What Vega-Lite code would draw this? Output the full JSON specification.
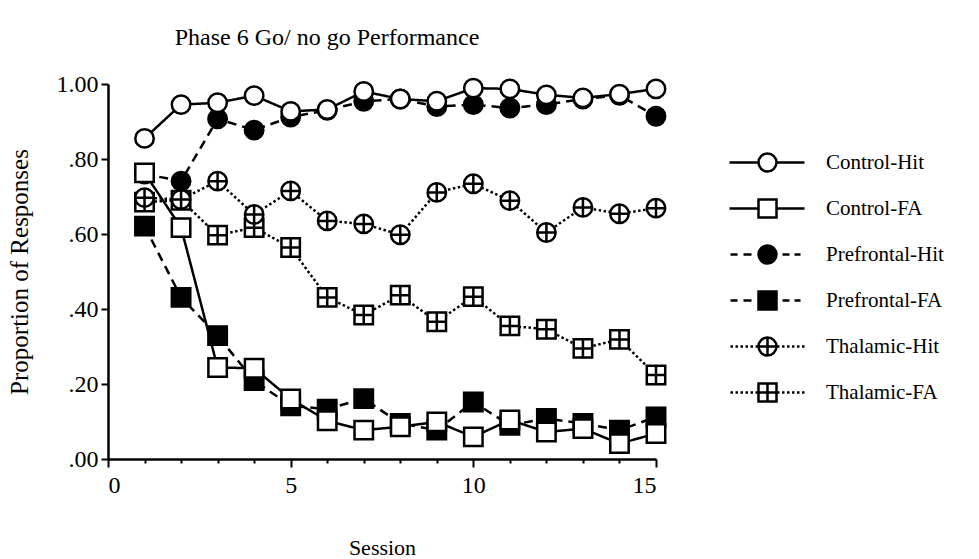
{
  "$schema": "https://vega.github.io/schema/vega-lite/v6.json",
  "autosize": "none",
  "width": 548,
  "height": 375,
  "padding": {"left": 108, "top": 84, "right": 323, "bottom": 100},
  "background": "white",
  "config": {
    "view": {"stroke": null},
    "font": "Liberation Serif",
    "axis": {"grid": false, "domainColor": "black", "domainWidth": 2.5, "tickColor": "black", "tickWidth": 2, "labelColor": "black", "labelFont": "Liberation Serif", "labelFontSize": 24, "titleFont": "Liberation Serif", "titleFontSize": 22, "titleFontWeight": "normal", "titleColor": "black"}
  },
  "title": {"text": "Phase 6 Go/ no go Performance", "font": "Liberation Serif", "fontSize": 24, "fontWeight": "normal", "color": "black", "offset": 22, "dx": -55},
  "data": {"values": [
    {"s":1,"v":0.621,"series":"Prefrontal-FA"},{"s":2,"v":0.431,"series":"Prefrontal-FA"},{"s":3,"v":0.329,"series":"Prefrontal-FA"},{"s":4,"v":0.209,"series":"Prefrontal-FA"},{"s":5,"v":0.142,"series":"Prefrontal-FA"},{"s":6,"v":0.133,"series":"Prefrontal-FA"},{"s":7,"v":0.161,"series":"Prefrontal-FA"},{"s":8,"v":0.095,"series":"Prefrontal-FA"},{"s":9,"v":0.077,"series":"Prefrontal-FA"},{"s":10,"v":0.152,"series":"Prefrontal-FA"},{"s":11,"v":0.09,"series":"Prefrontal-FA"},{"s":12,"v":0.108,"series":"Prefrontal-FA"},{"s":13,"v":0.095,"series":"Prefrontal-FA"},{"s":14,"v":0.077,"series":"Prefrontal-FA"},{"s":15,"v":0.112,"series":"Prefrontal-FA"},
    {"s":1,"v":0.76,"series":"Prefrontal-Hit"},{"s":2,"v":0.741,"series":"Prefrontal-Hit"},{"s":3,"v":0.907,"series":"Prefrontal-Hit"},{"s":4,"v":0.877,"series":"Prefrontal-Hit"},{"s":5,"v":0.912,"series":"Prefrontal-Hit"},{"s":6,"v":0.93,"series":"Prefrontal-Hit"},{"s":7,"v":0.954,"series":"Prefrontal-Hit"},{"s":8,"v":0.96,"series":"Prefrontal-Hit"},{"s":9,"v":0.94,"series":"Prefrontal-Hit"},{"s":10,"v":0.945,"series":"Prefrontal-Hit"},{"s":11,"v":0.936,"series":"Prefrontal-Hit"},{"s":12,"v":0.945,"series":"Prefrontal-Hit"},{"s":13,"v":0.96,"series":"Prefrontal-Hit"},{"s":14,"v":0.97,"series":"Prefrontal-Hit"},{"s":15,"v":0.914,"series":"Prefrontal-Hit"},
    {"s":1,"v":0.685,"series":"Thalamic-FA"},{"s":2,"v":0.69,"series":"Thalamic-FA"},{"s":3,"v":0.597,"series":"Thalamic-FA"},{"s":4,"v":0.617,"series":"Thalamic-FA"},{"s":5,"v":0.564,"series":"Thalamic-FA"},{"s":6,"v":0.431,"series":"Thalamic-FA"},{"s":7,"v":0.384,"series":"Thalamic-FA"},{"s":8,"v":0.437,"series":"Thalamic-FA"},{"s":9,"v":0.366,"series":"Thalamic-FA"},{"s":10,"v":0.433,"series":"Thalamic-FA"},{"s":11,"v":0.355,"series":"Thalamic-FA"},{"s":12,"v":0.346,"series":"Thalamic-FA"},{"s":13,"v":0.295,"series":"Thalamic-FA"},{"s":14,"v":0.319,"series":"Thalamic-FA"},{"s":15,"v":0.224,"series":"Thalamic-FA"},
    {"s":1,"v":0.697,"series":"Thalamic-Hit"},{"s":2,"v":0.692,"series":"Thalamic-Hit"},{"s":3,"v":0.741,"series":"Thalamic-Hit"},{"s":4,"v":0.652,"series":"Thalamic-Hit"},{"s":5,"v":0.715,"series":"Thalamic-Hit"},{"s":6,"v":0.635,"series":"Thalamic-Hit"},{"s":7,"v":0.627,"series":"Thalamic-Hit"},{"s":8,"v":0.598,"series":"Thalamic-Hit"},{"s":9,"v":0.711,"series":"Thalamic-Hit"},{"s":10,"v":0.734,"series":"Thalamic-Hit"},{"s":11,"v":0.689,"series":"Thalamic-Hit"},{"s":12,"v":0.604,"series":"Thalamic-Hit"},{"s":13,"v":0.671,"series":"Thalamic-Hit"},{"s":14,"v":0.654,"series":"Thalamic-Hit"},{"s":15,"v":0.669,"series":"Thalamic-Hit"},
    {"s":1,"v":0.763,"series":"Control-FA"},{"s":2,"v":0.617,"series":"Control-FA"},{"s":3,"v":0.244,"series":"Control-FA"},{"s":4,"v":0.242,"series":"Control-FA"},{"s":5,"v":0.16,"series":"Control-FA"},{"s":6,"v":0.102,"series":"Control-FA"},{"s":7,"v":0.077,"series":"Control-FA"},{"s":8,"v":0.086,"series":"Control-FA"},{"s":9,"v":0.099,"series":"Control-FA"},{"s":10,"v":0.059,"series":"Control-FA"},{"s":11,"v":0.104,"series":"Control-FA"},{"s":12,"v":0.072,"series":"Control-FA"},{"s":13,"v":0.081,"series":"Control-FA"},{"s":14,"v":0.041,"series":"Control-FA"},{"s":15,"v":0.068,"series":"Control-FA"},
    {"s":1,"v":0.855,"series":"Control-Hit"},{"s":2,"v":0.945,"series":"Control-Hit"},{"s":3,"v":0.95,"series":"Control-Hit"},{"s":4,"v":0.969,"series":"Control-Hit"},{"s":5,"v":0.927,"series":"Control-Hit"},{"s":6,"v":0.932,"series":"Control-Hit"},{"s":7,"v":0.98,"series":"Control-Hit"},{"s":8,"v":0.96,"series":"Control-Hit"},{"s":9,"v":0.954,"series":"Control-Hit"},{"s":10,"v":0.989,"series":"Control-Hit"},{"s":11,"v":0.987,"series":"Control-Hit"},{"s":12,"v":0.971,"series":"Control-Hit"},{"s":13,"v":0.963,"series":"Control-Hit"},{"s":14,"v":0.973,"series":"Control-Hit"},{"s":15,"v":0.987,"series":"Control-Hit"}
  ]},
  "encoding": {
    "x": {"field": "s", "type": "quantitative", "scale": {"domain": [0, 15], "nice": false, "zero": false},
      "axis": {"title": "Session", "titlePadding": 40, "values": [0,1,2,3,4,5,6,7,8,9,10,11,12,13,14,15], "labelExpr": "datum.value % 5 === 0 ? datum.label : ''", "labelPadding": 6, "tickSize": {"condition": {"test": "datum.value % 5 === 0", "value": 8}, "value": 4}}},
    "y": {"field": "v", "type": "quantitative", "scale": {"domain": [0, 1], "nice": false},
      "axis": {"title": "Proportion of Responses", "titleFontSize": 25, "titlePadding": 24, "values": [0, 0.2, 0.4, 0.6, 0.8, 1], "tickSize": 7, "labelPadding": 3, "labelExpr": "datum.value === 1 ? '1.00' : substring(format(datum.value, '.2f'), 1)"}}
  },
  "layer": [
    {
      "mark": {"type": "line", "color": "black", "strokeWidth": 2.5},
      "encoding": {
        "detail": {"field": "series", "type": "nominal"},
        "strokeDash": {"field": "series", "type": "nominal", "legend": null,
          "scale": {"domain": ["Control-Hit","Control-FA","Prefrontal-Hit","Prefrontal-FA","Thalamic-Hit","Thalamic-FA"],
            "range": [[1,0],[1,0],[9,6],[9,6],[2.5,2.5],[2.5,2.5]]}}
      }
    },
    {
      "mark": {"type": "point", "filled": false, "stroke": "black", "strokeWidth": 2.5, "size": 340, "opacity": 1},
      "encoding": {
        "shape": {"field": "series", "type": "nominal", "legend": null,
          "scale": {"domain": ["Control-Hit","Control-FA","Prefrontal-Hit","Prefrontal-FA","Thalamic-Hit","Thalamic-FA"],
            "range": [
              "M-1,0A1,1,0,1,1,1,0A1,1,0,1,1,-1,0Z",
              "M-1,-1H1V1H-1Z",
              "M-1,0A1,1,0,1,1,1,0A1,1,0,1,1,-1,0Z",
              "M-1,-1H1V1H-1Z",
              "M-1,0A1,1,0,1,1,1,0A1,1,0,1,1,-1,0ZM-1,0H1M0,-1V1",
              "M-1,-1H1V1H-1ZM-1,0H1M0,-1V1"
            ]}},
        "fill": {"field": "series", "type": "nominal", "legend": null,
          "scale": {"domain": ["Control-Hit","Control-FA","Prefrontal-Hit","Prefrontal-FA","Thalamic-Hit","Thalamic-FA"],
            "range": ["white","white","black","black","white","white"]}}
      }
    },
    {
      "transform": [{"filter": "datum.s > 100"}],
      "mark": {"type": "point", "filled": false, "stroke": "black", "strokeWidth": 2.5, "size": 400, "opacity": 1},
      "encoding": {
        "shape": {"field": "series", "type": "nominal",
          "scale": {"domain": ["Control-Hit","Control-FA","Prefrontal-Hit","Prefrontal-FA","Thalamic-Hit","Thalamic-FA"],
            "range": [
              "M-3.8,0H-0.9M0.9,0H3.7M-0.9,0A0.9,0.9,0,1,1,0.9,0A0.9,0.9,0,1,1,-0.9,0Z",
              "M-3.8,0H-0.9M0.9,0H3.7M-0.9,-0.9H0.9V0.9H-0.9Z",
              "M-3.7,0H-3M-2.4,0H-1.6M1.5,0H2.2M2.7,0H3.3M-0.9,0A0.9,0.9,0,1,1,0.9,0A0.9,0.9,0,1,1,-0.9,0ZM-0.7,0A0.7,0.7,0,1,1,0.7,0A0.7,0.7,0,1,1,-0.7,0ZM-0.5,0A0.5,0.5,0,1,1,0.5,0A0.5,0.5,0,1,1,-0.5,0ZM-0.3,0A0.3,0.3,0,1,1,0.3,0A0.3,0.3,0,1,1,-0.3,0ZM-0.12,0A0.12,0.12,0,1,1,0.12,0A0.12,0.12,0,1,1,-0.12,0Z",
              "M-3.7,0H-3M-2.4,0H-1.6M1.5,0H2.2M2.7,0H3.3M-0.9,-0.9H0.9V0.9H-0.9ZM-0.7,-0.7H0.7V0.7H-0.7ZM-0.5,-0.5H0.5V0.5H-0.5ZM-0.3,-0.3H0.3V0.3H-0.3ZM-0.12,-0.12H0.12V0.12H-0.12Z",
              "M-3.7,0H-3.45M-3.2,0H-2.95M-2.7,0H-2.45M-2.2,0H-1.95M-1.7,0H-1.45M-1.2,0H-1M1,0H1.2M1.45,0H1.7M1.95,0H2.2M2.45,0H2.7M2.95,0H3.2M3.45,0H3.7M-0.9,0A0.9,0.9,0,1,1,0.9,0A0.9,0.9,0,1,1,-0.9,0ZM-0.9,0H0.9M0,-0.9V0.9",
              "M-3.7,0H-3.45M-3.2,0H-2.95M-2.7,0H-2.45M-2.2,0H-1.95M-1.7,0H-1.45M-1.2,0H-1M1,0H1.2M1.45,0H1.7M1.95,0H2.2M2.45,0H2.7M2.95,0H3.2M3.45,0H3.7M-0.9,-0.9H0.9V0.9H-0.9ZM-0.9,0H0.9M0,-0.9V0.9"
            ]},
          "legend": {"title": null, "orient": "none", "legendX": 648, "legendY": 67, "padding": 0,
            "labelFont": "Liberation Serif", "labelFontSize": 21, "labelColor": "black", "labelOffset": 47, "rowPadding": 17,
            "symbolSize": 400, "symbolStrokeColor": "black", "symbolStrokeWidth": 2.5, "symbolFillColor": "white", "symbolOpacity": 1,
            "encode": {"symbols": {"update": {"fill": {"value": "white"}, "stroke": {"value": "black"}, "opacity": {"value": 1}}}}}}
      }
    }
  ],
  "resolve": {"scale": {"shape": "independent"}}
}
